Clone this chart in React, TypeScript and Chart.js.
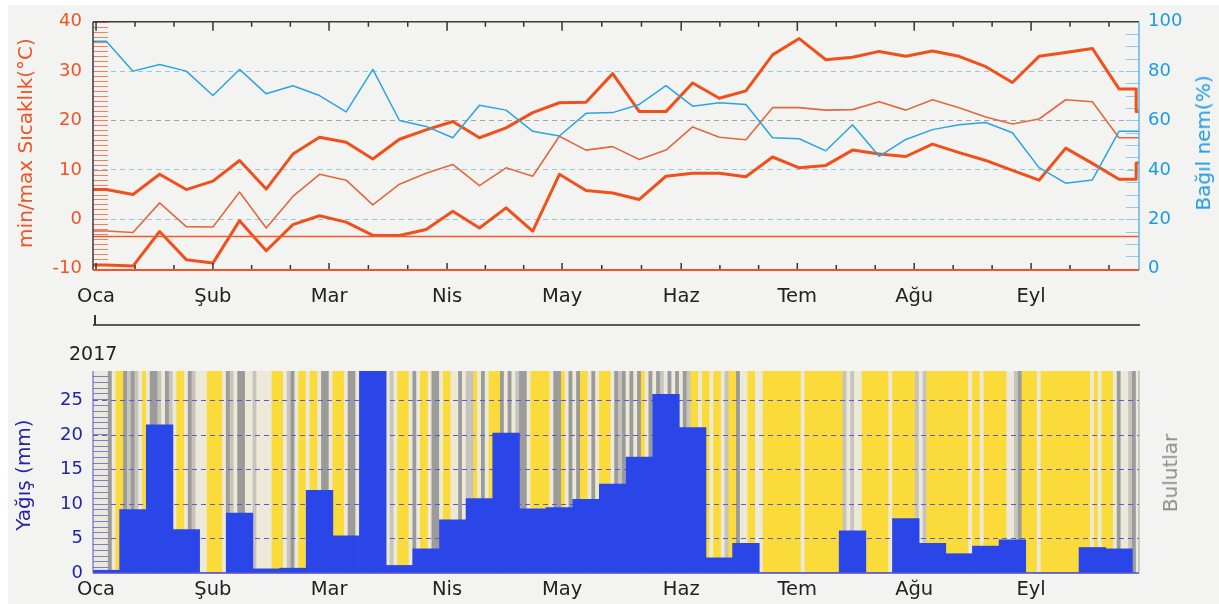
import React, { useEffect, useRef } from "react";
import { Chart, registerables } from "chart.js";

Chart.register(...registerables);
Chart.defaults.font.family = "'DejaVu Sans', sans-serif";

// ---------------- data ----------------
const monthLabels = ["Oca", "Şub", "Mar", "Nis", "May", "Haz", "Tem", "Ağu", "Eyl"];
const monthTickDays = [0.8, 31.5, 62, 93, 123.2, 154.5, 185, 215.7, 246.4];
const xMaxDay = 274.75;
const daysPerWeek = 7;

// weekly values (week 1 = 1-7 Jan ...)
const maxTemp = [6.0, 5.0, 9.1, 6.0, 7.7, 11.9, 6.1, 13.2, 16.6, 15.6, 12.2, 16.2, 18.1, 19.8, 16.5, 18.5, 21.6, 23.6, 23.7, 29.5, 21.8, 21.8, 27.6, 24.5, 26.0, 33.3, 36.6, 32.3, 32.8, 34.0, 33.0, 34.1, 33.0, 30.9, 27.7, 33.0, 33.8, 34.6, 26.4];
const meanTemp = [-2.4, -2.7, 3.3, -1.5, -1.6, 5.5, -1.8, 4.6, 9.1, 7.9, 2.9, 7.1, 9.3, 11.1, 6.8, 10.4, 8.7, 16.8, 14.0, 14.7, 12.1, 14.0, 18.7, 16.6, 16.1, 22.6, 22.6, 22.1, 22.2, 23.8, 22.1, 24.2, 22.6, 20.7, 19.3, 20.3, 24.2, 23.8, 16.5];
const minTemp = [-9.3, -9.5, -2.5, -8.2, -8.9, -0.3, -6.4, -1.1, 0.7, -0.6, -3.3, -3.3, -2.1, 1.6, -1.8, 2.3, -2.4, 9.1, 5.8, 5.3, 4.0, 8.7, 9.3, 9.3, 8.6, 12.6, 10.4, 10.9, 14.0, 13.2, 12.7, 15.2, 13.5, 11.9, 9.9, 7.9, 14.4, 11.3, 8.1];
const humidity = [92.1, 80.0, 82.7, 80.0, 70.1, 80.7, 70.8, 74.1, 70.1, 63.5, 80.7, 60.0, 57.6, 53.0, 66.2, 64.2, 55.6, 53.7, 62.9, 63.2, 66.5, 74.1, 65.8, 67.2, 66.5, 53.0, 52.6, 47.7, 58.3, 45.5, 52.3, 56.3, 58.3, 59.2, 55.0, 40.9, 34.6, 35.9, 55.6];
const precip = [0.4, 9.2, 21.5, 6.3, 0, 8.7, 0.6, 0.7, 12.0, 5.4, 30, 1.1, 3.5, 7.7, 10.8, 20.3, 9.3, 9.5, 10.7, 12.9, 16.8, 25.9, 21.1, 2.2, 4.3, 0, 0, 0, 6.1, 0, 7.9, 4.3, 2.8, 3.9, 4.8, 0, 0, 3.7, 3.5];

// trailing partial week
const partialWeekDay = 274;
const maxTempPartial = 21.8;
const minTempPartial = 11.4;
const tempRefLine = -3.5;

// axes
const tempMin = -10.3;
const tempMax = 40;
const humMin = -0.6;
const humMax = 100;
const rainMax = 29.3;
const tempTicks = [-10, 0, 10, 20, 30, 40];
const humTicks = [0, 20, 40, 60, 80, 100];
const rainTicks = [0, 5, 10, 15, 20, 25];

// daily cloudiness: Y sunny, P partly, L cloudy, G overcast
const cloudsJan = "PPPPGPYYGLGLPYPGGLPGLPYYPGLPPPY";
const cloudsFeb = "YYYPGLPGGPPLPPPPYYYPLGPYYPYY";
const cloudsMar = "PGGPYYYPGGPGPYGGPLPLPYYYPGPYYPG";
const cloudsApr = "GPYYPPGPLLYPGPYYYGPGPLGGPYYYYY";
const cloudsMay = "PGGYPGPGYYPGPYYYPGLGPGPGYPGPGLP";
const cloudsJun = "GPGPGLYYPYYPYYPLYYGPPYYPPYYYYY";
const cloudsJul = "YYYYYPYYYYYYYYYYLPLPPYYYYYYYPYY";
const cloudsAug = "YYYYLPLYYYYYYYYYYYPYYPYYYYYYPPL";
const cloudsSep = "GYYYYPYYYYYYYYYYYYYPYPYYYPGPPLGP";

// ---------------- styles ----------------
const ORANGE = "#ee5424";
const BLUE = "#1d9be0";
const NAVY = "#2424a8";
const cloudColors: Record<string, string> = {
  Y: "#fbdb3a",
  P: "#ece9d8",
  L: "#c6c4bd",
  G: "#9b9b9a",
};

const weekCenter = (k: number) => k * daysPerWeek + daysPerWeek / 2;

function lineData(vals: number[], partial?: number) {
  const pts: { x: number; y: number }[] = [{ x: 0, y: vals[0] }];
  vals.forEach((v, k) => pts.push({ x: weekCenter(k), y: v }));
  const last = vals[vals.length - 1];
  pts.push({ x: partialWeekDay, y: last });
  if (partial !== undefined) {
    pts.push({ x: partialWeekDay, y: partial });
    pts.push({ x: xMaxDay, y: partial });
  } else {
    pts.push({ x: xMaxDay, y: last });
  }
  return pts;
}

function frameTicks() {
  const n = monthTickDays.length;
  const step = (monthTickDays[n - 1] - monthTickDays[0]) / ((n - 1) * 3);
  const out: { d: number; major: boolean }[] = [];
  monthTickDays.forEach((d, i) => {
    const next = i < n - 1 ? monthTickDays[i + 1] : d + 3 * step;
    out.push({ d, major: true });
    out.push({ d: d + (next - d) / 3, major: false });
    out.push({ d: d + (2 * (next - d)) / 3, major: false });
  });
  return out.filter((t) => t.d <= xMaxDay);
}

function hLine(ctx: CanvasRenderingContext2D, x1: number, x2: number, y: number) {
  ctx.beginPath();
  ctx.moveTo(x1, y);
  ctx.lineTo(x2, y);
  ctx.stroke();
}
function vLine(ctx: CanvasRenderingContext2D, x: number, y1: number, y2: number) {
  ctx.beginPath();
  ctx.moveTo(x, y1);
  ctx.lineTo(x, y2);
  ctx.stroke();
}

const monthAxis = (padding: number, height: number) => ({
  type: "linear",
  position: "bottom",
  min: 0,
  max: xMaxDay,
  offset: false,
  afterBuildTicks: (s: any) => {
    s.ticks = monthTickDays.map((v) => ({ value: v }));
  },
  afterFit: (s: any) => {
    s.height = height;
  },
  grid: { display: false, drawTicks: false, offset: false },
  border: { display: false },
  ticks: {
    autoSkip: false,
    maxRotation: 0,
    padding,
    color: "#222",
    font: { size: 19.5 },
    callback: (_v: any, i: number) => monthLabels[i],
  },
});

function topConfig(): any {
  const decor = {
    id: "topDecor",
    beforeDatasetsDraw(chart: any) {
      const { ctx, chartArea: a, scales } = chart;
      ctx.save();
      ctx.lineWidth = 1;
      ctx.strokeStyle = "#f2805e";
      for (let t = -10; t <= 40; t += 1) {
        const y = Math.round(scales.yT.getPixelForValue(t)) + 0.5;
        hLine(ctx, a.left, a.left + 15, y);
      }
      ctx.strokeStyle = "#8ccaec";
      for (let h = 5; h < 100; h += 5) {
        const y = Math.round(scales.yH.getPixelForValue(h)) + 0.5;
        hLine(ctx, a.right - 13, a.right, y);
      }
      ctx.restore();
    },
    afterDraw(chart: any) {
      const { ctx, chartArea: a, scales } = chart;
      ctx.save();
      ctx.strokeStyle = "#333";
      ctx.lineWidth = 1.5;
      frameTicks().forEach(({ d, major }) => {
        const x = scales.x.getPixelForValue(d);
        vLine(ctx, x, a.top, a.top + (major ? 9 : 5));
        vLine(ctx, x, a.bottom, a.bottom - (major ? 7 : 5));
      });
      ctx.strokeStyle = "#3a3a3a";
      hLine(ctx, a.left, a.right, a.top);
      vLine(ctx, a.left, a.top, a.bottom);
      ctx.strokeStyle = "#62b6e6";
      vLine(ctx, a.right, a.top, a.bottom);
      ctx.strokeStyle = ORANGE;
      ctx.lineWidth = 2;
      hLine(ctx, a.left, a.right, a.bottom);
      ctx.restore();
    },
  };

  const line = (data: any, color: string, width: number, axis: string) => ({
    data,
    borderColor: color,
    borderWidth: width,
    pointRadius: 0,
    tension: 0,
    fill: false,
    borderJoinStyle: "round",
    yAxisID: axis,
    xAxisID: "x",
  });

  return {
    type: "line",
    data: {
      datasets: [
        line(lineData(humidity), "#2aa5e2", 1.5, "yH"),
        line([{ x: 0, y: tempRefLine }, { x: xMaxDay, y: tempRefLine }], "#ef5a28", 1.5, "yT"),
        line(lineData(meanTemp), "#e2683e", 1.6, "yT"),
        line(lineData(maxTemp, maxTempPartial), "#f0501c", 3, "yT"),
        line(lineData(minTemp, minTempPartial), "#f0501c", 3, "yT"),
      ],
    },
    options: {
      animation: false,
      responsive: false,
      layout: { padding: { top: 17, left: 0, right: 0, bottom: 0 } },
      plugins: { legend: { display: false }, tooltip: { enabled: false } },
      scales: {
        x: monthAxis(15, 60),
        yT: {
          type: "linear",
          position: "left",
          min: tempMin,
          max: tempMax,
          afterBuildTicks: (s: any) => {
            s.ticks = tempTicks.map((v) => ({ value: v }));
          },
          afterFit: (s: any) => {
            s.width = 93;
          },
          grid: { display: false, drawTicks: false },
          border: { display: false },
          ticks: { padding: 11, color: ORANGE, font: { size: 18 }, callback: (v: any) => String(v) },
        },
        yH: {
          type: "linear",
          position: "right",
          min: humMin,
          max: humMax,
          afterBuildTicks: (s: any) => {
            s.ticks = humTicks.map((v) => ({ value: v }));
          },
          afterFit: (s: any) => {
            s.width = 80;
          },
          grid: {
            drawTicks: false,
            lineWidth: 1,
            color: (c: any) => {
              const v = c.tick ? c.tick.value : 0;
              if (v === 0 || v === 100) return "rgba(0,0,0,0)";
              return v === 60 ? "#aaa3a3" : "#92c8e6";
            },
          },
          border: { display: false, dash: [5, 4] },
          ticks: { padding: 9, color: BLUE, font: { size: 18 }, callback: (v: any) => String(v) },
        },
      },
    },
    plugins: [decor],
  };
}

function cloudConfig(): any {
  const days = (cloudsJan + cloudsFeb + cloudsMar + cloudsApr + cloudsMay + cloudsJun + cloudsJul + cloudsAug + cloudsSep).split("");
  return {
    type: "bar",
    data: {
      datasets: [
        {
          data: days.map((_c, i) => ({ x: i + 0.5, y: 1 })),
          backgroundColor: days.map((c) => cloudColors[c]),
          borderWidth: 0,
          barPercentage: 1,
          categoryPercentage: 1,
        },
      ],
    },
    options: {
      animation: false,
      responsive: false,
      layout: { padding: { top: 41, left: 93, right: 80, bottom: 31 } },
      plugins: { legend: { display: false }, tooltip: { enabled: false } },
      scales: {
        x: { type: "linear", min: 0, max: xMaxDay, display: false, offset: false, grid: { offset: false } },
        y: { type: "linear", min: 0, max: 1, display: false },
      },
    },
  };
}

function rainConfig(): any {
  const decor = {
    id: "rainDecor",
    beforeDatasetsDraw(chart: any) {
      const { ctx, chartArea: a, scales } = chart;
      ctx.save();
      ctx.lineWidth = 1;
      ctx.strokeStyle = "#7c7cd8";
      for (let r = 0.84; r < rainMax; r += 0.84) {
        const y = Math.round(scales.y.getPixelForValue(r)) + 0.5;
        hLine(ctx, a.left, a.left + 15, y);
      }
      ctx.restore();
    },
    afterDraw(chart: any) {
      const { ctx, chartArea: a } = chart;
      ctx.save();
      ctx.lineWidth = 1.2;
      ctx.strokeStyle = "#6b6bd0";
      vLine(ctx, a.left, a.top, a.bottom);
      ctx.strokeStyle = "#b0b0b0";
      vLine(ctx, a.right, a.top, a.bottom);
      ctx.strokeStyle = "#4b4bc8";
      ctx.lineWidth = 1.5;
      hLine(ctx, a.left, a.right, a.bottom);
      ctx.restore();
    },
  };
  return {
    type: "bar",
    data: {
      datasets: [
        {
          data: precip.map((v, k) => ({ x: weekCenter(k), y: v })),
          backgroundColor: "#2a46e8",
          borderWidth: 0,
          barPercentage: 1,
          categoryPercentage: 1,
        },
      ],
    },
    options: {
      animation: false,
      responsive: false,
      layout: { padding: { top: 41, left: 0, right: 80, bottom: 0 } },
      plugins: { legend: { display: false }, tooltip: { enabled: false } },
      scales: {
        x: monthAxis(5, 31),
        y: {
          type: "linear",
          position: "left",
          min: 0,
          max: rainMax,
          afterBuildTicks: (s: any) => {
            s.ticks = rainTicks.map((v) => ({ value: v }));
          },
          afterFit: (s: any) => {
            s.width = 93;
          },
          grid: {
            drawTicks: false,
            lineWidth: 1,
            color: (c: any) => (c.tick && c.tick.value === 0 ? "rgba(0,0,0,0)" : "#5a5ad4"),
          },
          border: { display: false, dash: [5, 4] },
          ticks: { padding: 10, color: NAVY, font: { size: 18 }, callback: (v: any) => String(v) },
        },
      },
    },
    plugins: [decor],
  };
}

const rotated = (text: string, cx: number, cy: number, color: string): React.ReactElement => (
  <div
    style={{
      position: "absolute",
      left: cx,
      top: cy,
      transform: "translate(-50%, -50%) rotate(-90deg)",
      whiteSpace: "nowrap",
      fontSize: 20,
      lineHeight: 1,
      color,
      fontFamily: "'DejaVu Sans', sans-serif",
    }}
  >
    {text}
  </div>
);

export default function App() {
  const topRef = useRef<HTMLCanvasElement>(null);
  const cloudRef = useRef<HTMLCanvasElement>(null);
  const rainRef = useRef<HTMLCanvasElement>(null);

  useEffect(() => {
    const charts: Chart[] = [];
    charts.push(new Chart(topRef.current as HTMLCanvasElement, topConfig()));
    charts.push(new Chart(cloudRef.current as HTMLCanvasElement, cloudConfig()));
    charts.push(new Chart(rainRef.current as HTMLCanvasElement, rainConfig()));
    return () => charts.forEach((c) => c.destroy());
  }, []);

  return (
    <div
      style={{
        position: "absolute",
        left: 0,
        top: 0,
        width: 1219,
        height: 604,
        background: "#ffffff",
        overflow: "hidden",
        fontFamily: "'DejaVu Sans', sans-serif",
      }}
    >
      <div style={{ position: "absolute", left: 8, top: 5, right: 0, bottom: 0, background: "#f3f3f1" }} />
      <canvas ref={topRef} width={1219} height={330} style={{ position: "absolute", left: 0, top: 0 }} />
      <canvas ref={cloudRef} width={1219} height={274} style={{ position: "absolute", left: 0, top: 330 }} />
      <canvas ref={rainRef} width={1219} height={274} style={{ position: "absolute", left: 0, top: 330 }} />

      {rotated("min/max Sıcaklık(°C)", 25, 143, ORANGE)}
      {rotated("Bağıl nem(%)", 1203, 143, BLUE)}
      {rotated("Yağış (mm)", 23, 475, NAVY)}
      {rotated("Bulutlar", 1170, 473, "#8c8c8c")}

      <div style={{ position: "absolute", left: 93, top: 324, width: 1047, height: 2, background: "#5a5a5a" }} />
      <div style={{ position: "absolute", left: 94, top: 315, width: 1.5, height: 10, background: "#333" }} />
      <div
        style={{
          position: "absolute",
          left: 69,
          top: 344,
          fontSize: 19,
          lineHeight: 1,
          color: "#222",
          whiteSpace: "nowrap",
        }}
      >
        2017
      </div>
    </div>
  );
}
